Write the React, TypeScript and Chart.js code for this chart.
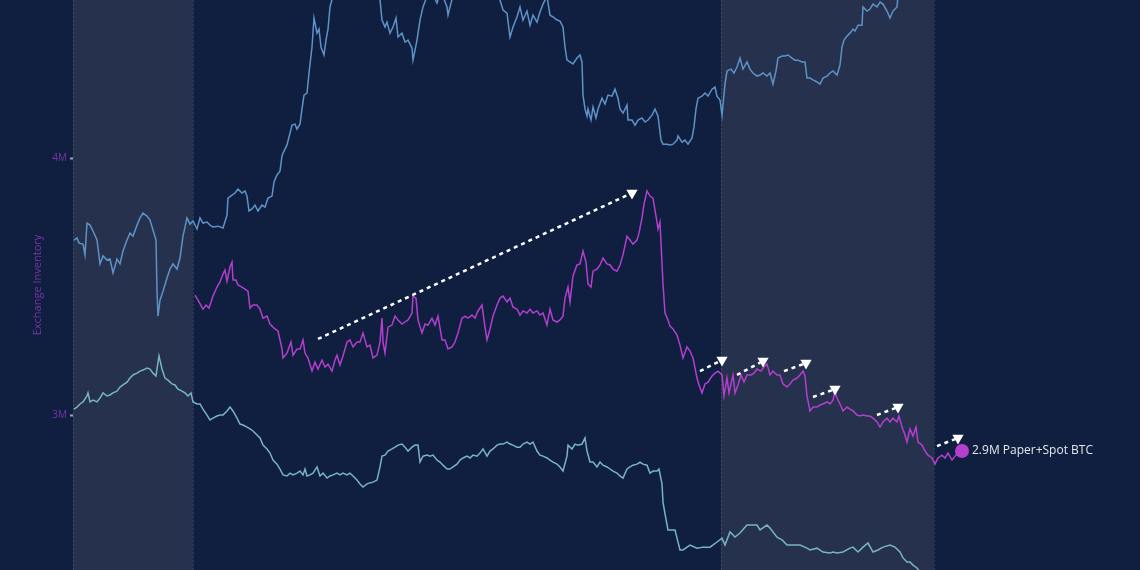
import React, { useEffect, useRef } from "react";
import { Chart, registerables } from "chart.js";

Chart.register(...registerables);

// ---------- data (x = day index since start of chart, y = BTC in millions) ----------
const xRange = [0, 1067];
const yRange = [2.397, 4.615];
const yTickValues = [3, 4];
const yTickLabels = ["3M", "4M"];
const axisTitle = "Exchange Inventory";
const endLabel = "2.9M Paper+Spot BTC";

// shaded periods [startDay, endDay]
const shadedPeriods = [
  [0, 120],
  [648, 861],
];

// upper (blue) inventory series
const upperSeries = [
  [1, 3.681], [4, 3.689], [6, 3.669], [10, 3.665], [12, 3.623], [14, 3.747], [17, 3.739], [20, 3.716],
  [24, 3.681], [27, 3.588], [30, 3.619], [34, 3.603], [37, 3.607], [40, 3.553], [44, 3.607], [47, 3.588],
  [50, 3.638], [54, 3.681], [57, 3.708], [60, 3.696], [64, 3.739], [67, 3.767], [70, 3.786], [74, 3.774],
  [77, 3.759], [80, 3.72], [83, 3.681], [84, 3.482], [85, 3.385], [87, 3.447], [90, 3.482], [94, 3.533],
  [97, 3.568], [100, 3.588], [104, 3.568], [107, 3.611], [110, 3.696], [114, 3.767], [117, 3.743], [120, 3.755],
  [124, 3.724], [127, 3.767], [130, 3.747], [134, 3.751], [137, 3.739], [140, 3.732], [145, 3.735], [150, 3.728],
  [154, 3.778], [155, 3.844], [159, 3.856], [162, 3.864], [165, 3.879], [169, 3.864], [172, 3.872], [174, 3.852],
  [176, 3.794], [179, 3.802], [182, 3.817], [185, 3.794], [189, 3.817], [192, 3.809], [195, 3.844], [199, 3.852],
  [201, 3.907], [204, 3.934], [207, 3.949], [209, 4.008], [210, 4.019], [214, 4.051], [217, 4.097], [219, 4.128],
  [222, 4.132], [224, 4.113], [227, 4.132], [229, 4.191], [231, 4.245], [234, 4.253], [236, 4.331], [239, 4.432],
  [241, 4.545], [244, 4.486], [246, 4.502], [248, 4.432], [251, 4.401], [253, 4.459], [255, 4.502], [257, 4.588],
  [262, 4.66], [272, 4.7], [282, 4.68], [292, 4.72], [302, 4.66], [307, 4.615], [309, 4.537], [312, 4.51],
  [314, 4.529], [317, 4.486], [320, 4.51], [323, 4.545], [325, 4.471], [329, 4.486], [332, 4.451], [335, 4.459],
  [339, 4.428], [340, 4.381], [344, 4.459], [347, 4.537], [350, 4.588], [357, 4.66], [364, 4.603], [368, 4.65],
  [374, 4.588], [375, 4.556], [377, 4.588], [382, 4.66], [392, 4.72], [402, 4.7], [412, 4.74], [422, 4.68],
  [427, 4.615], [430, 4.576], [434, 4.564], [437, 4.471], [440, 4.51], [444, 4.549], [447, 4.588], [450, 4.537],
  [454, 4.572], [457, 4.517], [460, 4.556], [464, 4.529], [467, 4.568], [470, 4.599], [474, 4.63], [477, 4.556],
  [480, 4.549], [484, 4.537], [487, 4.533], [490, 4.51], [492, 4.432], [494, 4.381], [497, 4.374], [500, 4.366],
  [504, 4.389], [507, 4.401], [509, 4.374], [510, 4.245], [512, 4.191], [514, 4.163], [515, 4.191], [518, 4.148],
  [520, 4.198], [523, 4.156], [525, 4.191], [529, 4.233], [532, 4.21], [535, 4.245], [539, 4.241], [542, 4.268],
  [545, 4.233], [547, 4.191], [550, 4.175], [554, 4.206], [555, 4.148], [559, 4.148], [562, 4.128], [565, 4.148],
  [569, 4.156], [572, 4.14], [575, 4.148], [579, 4.167], [582, 4.191], [585, 4.163], [588, 4.07], [590, 4.054],
  [594, 4.054], [597, 4.051], [600, 4.054], [604, 4.07], [605, 4.086], [609, 4.062], [612, 4.07], [615, 4.054],
  [619, 4.078], [621, 4.121], [623, 4.191], [625, 4.233], [629, 4.241], [632, 4.253], [635, 4.241], [639, 4.268],
  [642, 4.276], [644, 4.241], [647, 4.226], [649, 4.167], [652, 4.288], [654, 4.339], [658, 4.346], [661, 4.331],
  [664, 4.354], [667, 4.389], [670, 4.346], [674, 4.374], [677, 4.346], [680, 4.331], [684, 4.319], [687, 4.323],
  [690, 4.331], [694, 4.319], [697, 4.331], [700, 4.288], [703, 4.339], [705, 4.389], [709, 4.397], [712, 4.397],
  [715, 4.401], [719, 4.389], [722, 4.381], [725, 4.381], [729, 4.374], [732, 4.374], [734, 4.311], [737, 4.311],
  [740, 4.304], [744, 4.296], [747, 4.288], [750, 4.311], [754, 4.319], [757, 4.331], [760, 4.339], [764, 4.323],
  [767, 4.362], [769, 4.432], [771, 4.459], [774, 4.475], [777, 4.486], [780, 4.502], [782, 4.494], [785, 4.517],
  [789, 4.517], [790, 4.588], [794, 4.572], [797, 4.58], [800, 4.599], [804, 4.588], [807, 4.607], [810, 4.599],
  [814, 4.572], [817, 4.545], [820, 4.572], [824, 4.588], [825, 4.63],
];

// paper + spot (purple) series
const paperSpotSeries = [
  [122, 3.467], [126, 3.44], [130, 3.412], [133, 3.428], [136, 3.416], [140, 3.463], [144, 3.498], [147, 3.518],
  [150, 3.549], [152, 3.564], [154, 3.521], [157, 3.576], [159, 3.595], [160, 3.525], [163, 3.525], [165, 3.506],
  [169, 3.498], [172, 3.49], [175, 3.482], [177, 3.416], [180, 3.428], [184, 3.428], [187, 3.412], [190, 3.377],
  [194, 3.385], [197, 3.354], [200, 3.342], [202, 3.335], [205, 3.327], [209, 3.257], [210, 3.222], [214, 3.241],
  [218, 3.284], [220, 3.233], [224, 3.257], [227, 3.257], [230, 3.292], [232, 3.241], [235, 3.222], [239, 3.171],
  [242, 3.206], [245, 3.179], [249, 3.214], [252, 3.187], [255, 3.198], [259, 3.171], [262, 3.214], [264, 3.233],
  [267, 3.195], [270, 3.23], [274, 3.284], [277, 3.292], [280, 3.265], [284, 3.284], [287, 3.284], [290, 3.319],
  [294, 3.265], [297, 3.272], [300, 3.222], [304, 3.233], [307, 3.284], [309, 3.377], [310, 3.284], [312, 3.241],
  [315, 3.342], [319, 3.35], [322, 3.385], [325, 3.37], [329, 3.354], [332, 3.362], [335, 3.37], [339, 3.397],
  [340, 3.463], [343, 3.455], [345, 3.37], [349, 3.319], [352, 3.354], [355, 3.35], [359, 3.377], [362, 3.35],
  [365, 3.385], [369, 3.292], [372, 3.292], [375, 3.257], [379, 3.265], [382, 3.284], [385, 3.319], [389, 3.377],
  [392, 3.385], [395, 3.377], [399, 3.389], [402, 3.377], [405, 3.405], [409, 3.428], [412, 3.342], [414, 3.292],
  [417, 3.335], [420, 3.385], [424, 3.428], [427, 3.455], [430, 3.463], [434, 3.44], [437, 3.455], [440, 3.42],
  [444, 3.412], [447, 3.389], [450, 3.405], [454, 3.397], [457, 3.412], [460, 3.397], [464, 3.405], [467, 3.389],
  [470, 3.397], [474, 3.35], [477, 3.412], [480, 3.37], [484, 3.362], [487, 3.37], [490, 3.385], [492, 3.455],
  [495, 3.498], [497, 3.44], [500, 3.541], [504, 3.584], [507, 3.588], [510, 3.638], [513, 3.595], [515, 3.51],
  [518, 3.498], [520, 3.56], [524, 3.568], [527, 3.584], [530, 3.611], [534, 3.588], [537, 3.584], [540, 3.568],
  [544, 3.56], [547, 3.584], [550, 3.623], [554, 3.696], [557, 3.681], [560, 3.665], [564, 3.681], [566, 3.708],
  [569, 3.767], [571, 3.821], [574, 3.872], [577, 3.852], [580, 3.844], [584, 3.751], [585, 3.724], [587, 3.751],
  [590, 3.51], [592, 3.397], [595, 3.37], [597, 3.346], [600, 3.335], [604, 3.311], [607, 3.272], [610, 3.222],
  [614, 3.265], [617, 3.249], [620, 3.222], [624, 3.144], [626, 3.117], [629, 3.086], [632, 3.121], [635, 3.128],
  [639, 3.152], [642, 3.163], [645, 3.171], [649, 3.156], [651, 3.074], [654, 3.144], [656, 3.086], [660, 3.156],
  [662, 3.086], [665, 3.117], [668, 3.156], [671, 3.128], [674, 3.156], [678, 3.156], [681, 3.163], [684, 3.179],
  [688, 3.171], [691, 3.187], [694, 3.198], [697, 3.156], [700, 3.171], [704, 3.156], [707, 3.156], [710, 3.121],
  [714, 3.109], [717, 3.121], [720, 3.136], [724, 3.144], [727, 3.156], [730, 3.171], [732, 3.152], [734, 3.074],
  [737, 3.016], [740, 3.031], [744, 3.031], [747, 3.039], [750, 3.043], [754, 3.051], [757, 3.043], [760, 3.058],
  [762, 3.093], [764, 3.066], [767, 3.043], [770, 3.016], [774, 3.031], [777, 3.023], [780, 3.016], [784, 3.0],
  [787, 2.996], [790, 3.0], [794, 2.996], [797, 2.996], [800, 2.988], [804, 2.973], [807, 2.953], [810, 2.973],
  [814, 2.988], [817, 2.973], [820, 2.988], [824, 2.973], [826, 2.996], [829, 2.953], [832, 2.922], [834, 2.895],
  [837, 2.946], [840, 2.918], [843, 2.953], [845, 2.895], [849, 2.883], [852, 2.86], [855, 2.844], [859, 2.833],
  [862, 2.809], [865, 2.833], [869, 2.844], [872, 2.833], [875, 2.852], [879, 2.825], [882, 2.84], [885, 2.852],
  [889, 2.86],
];

// lower (teal) inventory series
const lowerSeries = [
  [1, 3.023], [4, 3.031], [7, 3.043], [10, 3.051], [14, 3.074], [15, 3.086], [17, 3.051], [20, 3.058],
  [24, 3.051], [27, 3.066], [30, 3.086], [34, 3.074], [37, 3.078], [40, 3.086], [44, 3.093], [47, 3.109],
  [50, 3.117], [54, 3.128], [57, 3.144], [60, 3.156], [64, 3.163], [67, 3.171], [70, 3.175], [74, 3.183],
  [77, 3.179], [80, 3.163], [83, 3.152], [84, 3.179], [86, 3.23], [89, 3.179], [92, 3.144], [95, 3.136],
  [99, 3.121], [102, 3.117], [105, 3.101], [109, 3.093], [112, 3.086], [115, 3.074], [118, 3.086], [120, 3.051],
  [124, 3.043], [127, 3.043], [130, 3.023], [134, 3.0], [137, 2.981], [140, 2.988], [144, 2.996], [147, 3.0],
  [150, 3.0], [154, 3.016], [157, 3.031], [160, 3.016], [164, 2.988], [167, 2.965], [170, 2.961], [174, 2.953],
  [177, 2.946], [180, 2.938], [184, 2.922], [187, 2.911], [190, 2.883], [194, 2.868], [197, 2.852], [200, 2.825],
  [204, 2.809], [207, 2.79], [210, 2.767], [214, 2.763], [217, 2.774], [220, 2.767], [224, 2.774], [227, 2.782],
  [230, 2.767], [232, 2.79], [234, 2.763], [237, 2.767], [240, 2.774], [244, 2.798], [247, 2.763], [250, 2.774],
  [254, 2.755], [257, 2.763], [260, 2.767], [264, 2.774], [267, 2.767], [270, 2.774], [274, 2.767], [277, 2.774],
  [280, 2.763], [284, 2.747], [287, 2.732], [290, 2.72], [294, 2.732], [297, 2.736], [300, 2.739], [304, 2.747],
  [307, 2.798], [309, 2.84], [312, 2.844], [315, 2.86], [319, 2.868], [322, 2.875], [325, 2.883], [329, 2.887],
  [332, 2.875], [335, 2.86], [339, 2.875], [342, 2.883], [345, 2.883], [347, 2.817], [350, 2.84], [354, 2.844],
  [357, 2.84], [360, 2.844], [364, 2.825], [367, 2.817], [370, 2.805], [374, 2.79], [377, 2.79], [380, 2.798],
  [384, 2.809], [387, 2.825], [390, 2.833], [394, 2.84], [397, 2.833], [400, 2.844], [404, 2.84], [407, 2.852],
  [410, 2.868], [414, 2.84], [417, 2.86], [420, 2.868], [424, 2.883], [427, 2.887], [430, 2.887], [434, 2.895],
  [437, 2.887], [440, 2.883], [444, 2.875], [447, 2.875], [450, 2.887], [454, 2.895], [457, 2.887], [460, 2.895],
  [464, 2.86], [467, 2.844], [470, 2.84], [474, 2.833], [477, 2.825], [480, 2.817], [484, 2.809], [487, 2.798],
  [490, 2.782], [494, 2.84], [495, 2.883], [499, 2.868], [502, 2.887], [505, 2.883], [509, 2.887], [512, 2.911],
  [514, 2.86], [517, 2.817], [520, 2.817], [524, 2.798], [527, 2.817], [530, 2.805], [534, 2.798], [537, 2.79],
  [540, 2.782], [544, 2.774], [547, 2.763], [550, 2.755], [554, 2.79], [557, 2.798], [560, 2.805], [564, 2.809],
  [567, 2.817], [570, 2.809], [574, 2.805], [577, 2.774], [580, 2.782], [584, 2.782], [586, 2.79], [589, 2.732],
  [590, 2.661], [592, 2.615], [595, 2.553], [602, 2.553], [607, 2.475], [610, 2.475], [617, 2.494], [624, 2.482],
  [630, 2.486], [637, 2.486], [644, 2.506], [649, 2.521], [652, 2.494], [657, 2.545], [662, 2.525], [667, 2.541],
  [674, 2.572], [680, 2.572], [684, 2.572], [687, 2.553], [694, 2.572], [697, 2.56], [704, 2.525], [709, 2.514],
  [714, 2.494], [720, 2.494], [727, 2.494], [734, 2.482], [737, 2.475], [744, 2.482], [750, 2.467], [757, 2.463],
  [760, 2.467], [764, 2.463], [770, 2.467], [777, 2.482], [780, 2.486], [785, 2.467], [790, 2.486], [795, 2.502],
  [800, 2.467], [805, 2.475], [810, 2.486], [817, 2.494], [822, 2.486], [827, 2.467], [830, 2.444], [834, 2.428],
  [837, 2.428], [840, 2.416], [844, 2.405], [847, 2.389],
];

// dotted trend arrows [startDay, startValue, endDay, endValue]
const trendArrows = [
  [245, 3.296, 559, 3.864],
  [627, 3.171, 649, 3.214],
  [664, 3.156, 690, 3.21],
  [711, 3.171, 733, 3.202],
  [740, 3.07, 762, 3.101],
  [804, 3.0, 825, 3.031],
  [864, 2.879, 885, 2.911],
];

// ---------- styling ----------
const BG = "#101f3f";
const BAND = "#25314d";
const BLUE = "#5e93c8";
const PURPLE = "#b23fce";
const TEAL = "#77b4c4";
const AXIS_PURPLE = "#7a33a6";
const FONT = "'Open Sans', 'Noto Sans', sans-serif";

const toPoints = (arr: number[][]) => arr.map(([x, y]) => ({ x, y }));

export default function App() {
  const canvasRef = useRef<HTMLCanvasElement | null>(null);

  useEffect(() => {
    if (!canvasRef.current) return;

    const bgPlugin = {
      id: "bg",
      beforeDraw(chart: any) {
        const { ctx, width, height } = chart;
        ctx.save();
        ctx.fillStyle = BG;
        ctx.fillRect(0, 0, width, height);
        ctx.restore();
      },
    };

    const bandsPlugin = {
      id: "bands",
      beforeDatasetsDraw(chart: any) {
        const { ctx, chartArea } = chart;
        const xs = chart.scales.x;
        ctx.save();
        shadedPeriods.forEach(([a, b]) => {
          const x0 = xs.getPixelForValue(a);
          const x1 = xs.getPixelForValue(b);
          ctx.fillStyle = BAND;
          ctx.fillRect(x0, chartArea.top, x1 - x0, chartArea.bottom - chartArea.top);
          ctx.strokeStyle = "rgba(255,255,255,0.13)";
          ctx.lineWidth = 1;
          ctx.setLineDash([2, 2]);
          [x0, x1].forEach((xx) => {
            ctx.beginPath();
            ctx.moveTo(Math.round(xx) + 0.5, chartArea.top);
            ctx.lineTo(Math.round(xx) + 0.5, chartArea.bottom);
            ctx.stroke();
          });
        });
        ctx.restore();
      },
    };

    const labelPlugin = {
      id: "endLabel",
      afterDatasetsDraw(chart: any) {
        const idx = chart.data.datasets.findIndex((d: any) => d.label === "Paper+Spot BTC");
        const meta = chart.getDatasetMeta(idx);
        const pt = meta.data[meta.data.length - 1];
        if (!pt) return;
        const { ctx } = chart;
        ctx.save();
        ctx.font = `12px ${FONT}`;
        ctx.fillStyle = "#e4e7ee";
        ctx.textBaseline = "middle";
        ctx.textAlign = "left";
        ctx.fillText(endLabel, pt.x + 10, pt.y);
        ctx.restore();
      },
    };

    const arrowDatasets = trendArrows.map(([x0, y0, x1, y1], i) => ({
      label: "arrow" + i,
      data: [
        { x: x0, y: y0 },
        { x: x1, y: y1 },
      ],
      borderColor: "#ffffff",
      borderWidth: 2.5,
      borderDash: [4, 4],
      pointRadius: [0, 6.5],
      pointStyle: "triangle",
      pointRotation: 180,
      pointBackgroundColor: "#ffffff",
      pointBorderColor: "#ffffff",
      pointBorderWidth: 0,
      tension: 0,
    }));

    const lastIdx = paperSpotSeries.length - 1;

    const chart = new Chart(canvasRef.current, {
      type: "line",
      data: {
        datasets: [
          ...arrowDatasets,
          {
            label: "Paper+Spot BTC",
            data: toPoints(paperSpotSeries),
            borderColor: PURPLE,
            borderWidth: 1.5,
            pointRadius: (c: any) => (c.dataIndex === lastIdx ? 7 : 0),
            pointBackgroundColor: PURPLE,
            pointBorderWidth: 0,
            tension: 0,
          },
          {
            label: "Upper",
            data: toPoints(upperSeries),
            borderColor: BLUE,
            borderWidth: 1.5,
            pointRadius: 0,
            tension: 0,
          },
          {
            label: "Lower",
            data: toPoints(lowerSeries),
            borderColor: TEAL,
            borderWidth: 1.5,
            pointRadius: 0,
            tension: 0,
          },
        ] as any,
      },
      options: {
        animation: false,
        responsive: true,
        maintainAspectRatio: false,
        layout: { padding: 0, autoPadding: false },
        plugins: {
          legend: { display: false },
          tooltip: { enabled: false },
        },
        events: [],
        scales: {
          x: {
            type: "linear",
            min: xRange[0],
            max: xRange[1],
            display: false,
          },
          y: {
            type: "linear",
            position: "left",
            min: yRange[0],
            max: yRange[1],
            afterBuildTicks: (axis: any) => {
              axis.ticks = yTickValues.map((v) => ({ value: v }));
            },
            afterFit: (axis: any) => {
              axis.width = 73;
              axis.paddingTop = 0;
              axis.paddingBottom = 0;
            },
            border: { display: false },
            grid: {
              drawOnChartArea: false,
              drawTicks: true,
              tickLength: 3,
              tickWidth: 2,
              tickColor: "#8fa8cc",
            },
            ticks: {
              color: AXIS_PURPLE,
              font: { size: 10, family: FONT },
              padding: 3,
              callback: (v: any) => {
                const i = yTickValues.indexOf(Number(v));
                return i >= 0 ? yTickLabels[i] : "";
              },
            },
            title: {
              display: true,
              text: axisTitle,
              color: AXIS_PURPLE,
              font: { size: 11, family: FONT },
              padding: { top: 31, bottom: 0 },
            },
          },
        },
      } as any,
      plugins: [bgPlugin, bandsPlugin, labelPlugin],
    });

    return () => chart.destroy();
  }, []);

  return (
    <div style={{ position: "fixed", left: 0, top: 0, width: 1140, height: 570, background: BG }}>
      <canvas ref={canvasRef} />
    </div>
  );
}
